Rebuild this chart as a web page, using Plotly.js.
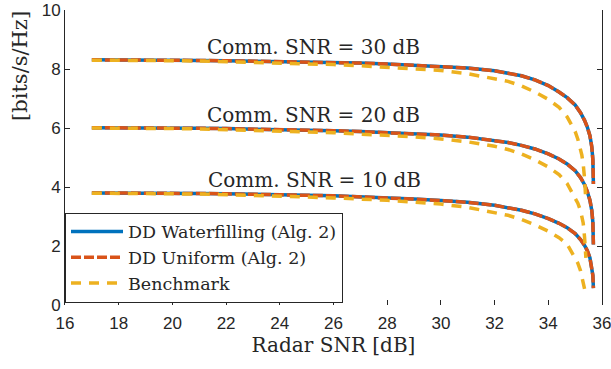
<!DOCTYPE html>
<html>
<head>
<meta charset="utf-8">
<script src="https://cdn.plot.ly/plotly-3.0.1.min.js"></script>
<style>
  html, body { margin: 0; padding: 0; background: #fff; }
  #chart { width: 611px; height: 369px; }
</style>
</head>
<body>
<div id="chart"></div>
<script>
// Radar SNR grid [dB] for the DD curves (Alg. 2)
const radarSnrDD = [17, 18, 19, 20, 21, 22, 23, 24, 25, 26, 27, 28, 29, 30, 31, 32,
  32.5, 33, 33.5, 34, 34.4, 34.7, 35.0, 35.2, 35.35, 35.45, 35.55, 35.62, 35.66, 35.68];

// Radar SNR grid [dB] for the benchmark curves
const radarSnrBench = [17, 18, 19, 20, 21, 22, 23, 24, 25, 26, 27, 28, 29, 30, 31, 32,
  32.5, 33, 33.5, 34, 34.4, 34.7, 35.0, 35.1, 35.2, 35.25, 35.3, 35.35, 35.4];

// DD Waterfilling rate [bits/s/Hz] per communication SNR
const waterfill30 = [8.31, 8.31, 8.30, 8.30, 8.29, 8.28, 8.27, 8.26, 8.24, 8.22, 8.20, 8.17, 8.13, 8.09, 8.03, 7.94,
  7.87, 7.77, 7.63, 7.44, 7.22, 7.03, 6.78, 6.52, 6.26, 6.04, 5.74, 5.36, 4.92, 4.10];
const waterfill20 = [6.01, 6.01, 6.00, 6.00, 5.99, 5.98, 5.97, 5.95, 5.93, 5.91, 5.88, 5.85, 5.81, 5.76, 5.69, 5.59,
  5.51, 5.41, 5.29, 5.12, 4.95, 4.78, 4.55, 4.32, 4.08, 3.85, 3.55, 3.20, 2.80, 2.05];
const waterfill10 = [3.80, 3.80, 3.79, 3.79, 3.78, 3.77, 3.76, 3.74, 3.72, 3.70, 3.67, 3.64, 3.59, 3.54, 3.48, 3.38,
  3.31, 3.21, 3.09, 2.93, 2.77, 2.62, 2.42, 2.22, 2.02, 1.85, 1.60, 1.30, 1.00, 0.57];

// DD Uniform rate [bits/s/Hz]: coincides with waterfilling on this grid
const uniform30 = waterfill30.slice();
const uniform20 = waterfill20.slice();
const uniform10 = waterfill10.slice();

// Benchmark rate [bits/s/Hz]
const bench30 = [8.30, 8.30, 8.29, 8.28, 8.27, 8.25, 8.23, 8.21, 8.18, 8.15, 8.11, 8.06, 8.01, 7.95, 7.84, 7.68,
  7.58, 7.43, 7.22, 6.97, 6.70, 6.38, 5.88, 5.62, 5.30, 5.08, 4.78, 4.30, 3.50];
const bench20 = [6.00, 6.00, 5.99, 5.98, 5.97, 5.95, 5.93, 5.90, 5.87, 5.84, 5.80, 5.75, 5.70, 5.63, 5.53, 5.38,
  5.27, 5.12, 4.92, 4.68, 4.42, 4.12, 3.66, 3.45, 3.20, 3.02, 2.78, 2.30, 1.60];
const bench10 = [3.79, 3.79, 3.78, 3.77, 3.76, 3.74, 3.72, 3.69, 3.66, 3.63, 3.60, 3.55, 3.49, 3.42, 3.31, 3.15,
  3.04, 2.90, 2.72, 2.50, 2.28, 2.06, 1.62, 1.42, 1.16, 0.95, 0.72, 0.52, 0.35];

const commSnrLabels = ['Comm. SNR = 30 dB', 'Comm. SNR = 20 dB', 'Comm. SNR = 10 dB'];
const labelX = [25.25, 25.25, 25.3];
const labelY = [8.76, 6.45, 4.24];

const xTicks = [16, 18, 20, 22, 24, 26, 28, 30, 32, 34, 36];
const yTicks = [0, 2, 4, 6, 8, 10];

const BLUE = '#0072BD', ORANGE = '#D95319', GOLD = '#EDB120';
const serif = '"DejaVu Serif", "Liberation Serif", serif';
const sans = '"Liberation Sans", Arial, sans-serif';
const ink = '#262626';

function curve(x, y, name, color, dash, width, show) {
  return {
    x: x, y: y, type: 'scatter', mode: 'lines', name: name,
    legendgroup: name, showlegend: show,
    line: { color: color, dash: dash, width: width },
    hoverinfo: 'skip'
  };
}

const traces = [];
const wfSets = [waterfill30, waterfill20, waterfill10];
const unSets = [uniform30, uniform20, uniform10];
const bmSets = [bench30, bench20, bench10];
wfSets.forEach((y, i) => traces.push(curve(radarSnrDD, y, 'DD Waterfilling (Alg. 2)', BLUE, 'solid', 3.5, i === 0)));
unSets.forEach((y, i) => traces.push(curve(radarSnrDD, y, 'DD Uniform (Alg. 2)', ORANGE, '10px,3px', 3.5, i === 0)));
bmSets.forEach((y, i) => traces.push(curve(radarSnrBench, y, 'Benchmark', GOLD, '10px,8px', 3.5, i === 0)));

const annotations = commSnrLabels.map((t, i) => ({
  x: labelX[i], y: labelY[i], xref: 'x', yref: 'y', text: t, showarrow: false,
  xanchor: 'center', yanchor: 'middle',
  font: { family: serif, size: 20, color: ink }
}));

// y-axis label, placed toward the top of the axis
annotations.push({
  x: -0.084, y: 0.81, xref: 'paper', yref: 'paper', text: '[bits/s/Hz]',
  textangle: -90, showarrow: false, xanchor: 'center', yanchor: 'middle',
  font: { family: serif, size: 21, color: ink }
});

const layout = {
  width: 611, height: 369,
  margin: { l: 65, r: 9, t: 10, b: 64 },
  paper_bgcolor: '#fff', plot_bgcolor: '#fff',
  showlegend: true,
  legend: {
    x: 0, y: 0.008, xanchor: 'left', yanchor: 'bottom',
    bgcolor: '#fff', bordercolor: ink, borderwidth: 1,
    font: { family: serif, size: 17.5, color: ink },
    itemwidth: 52, tracegroupgap: 0
  },
  xaxis: {
    range: [16, 36], tickvals: xTicks, ticktext: xTicks.map(String),
    showline: false, showgrid: false, zeroline: false,
    ticks: 'inside', ticklen: 5, tickwidth: 1, tickcolor: ink,
    ticklabelstandoff: 6, ticklabeloverflow: 'allow',
    tickfont: { family: sans, size: 17, color: ink },
    title: { text: 'Radar SNR [dB]', font: { family: serif, size: 20, color: ink }, standoff: 0 }
  },
  yaxis: {
    range: [0, 10], tickvals: yTicks, ticktext: yTicks.map(String),
    showline: true, linecolor: ink, linewidth: 1, mirror: 'ticks',
    showgrid: false, zeroline: false,
    ticks: 'inside', ticklen: 5, tickwidth: 1, tickcolor: ink,
    tickfont: { family: sans, size: 17, color: ink }
  },
  annotations: annotations
};

Plotly.newPlot('chart', traces, layout, { staticPlot: true, displayModeBar: false });
</script>
</body>
</html>
